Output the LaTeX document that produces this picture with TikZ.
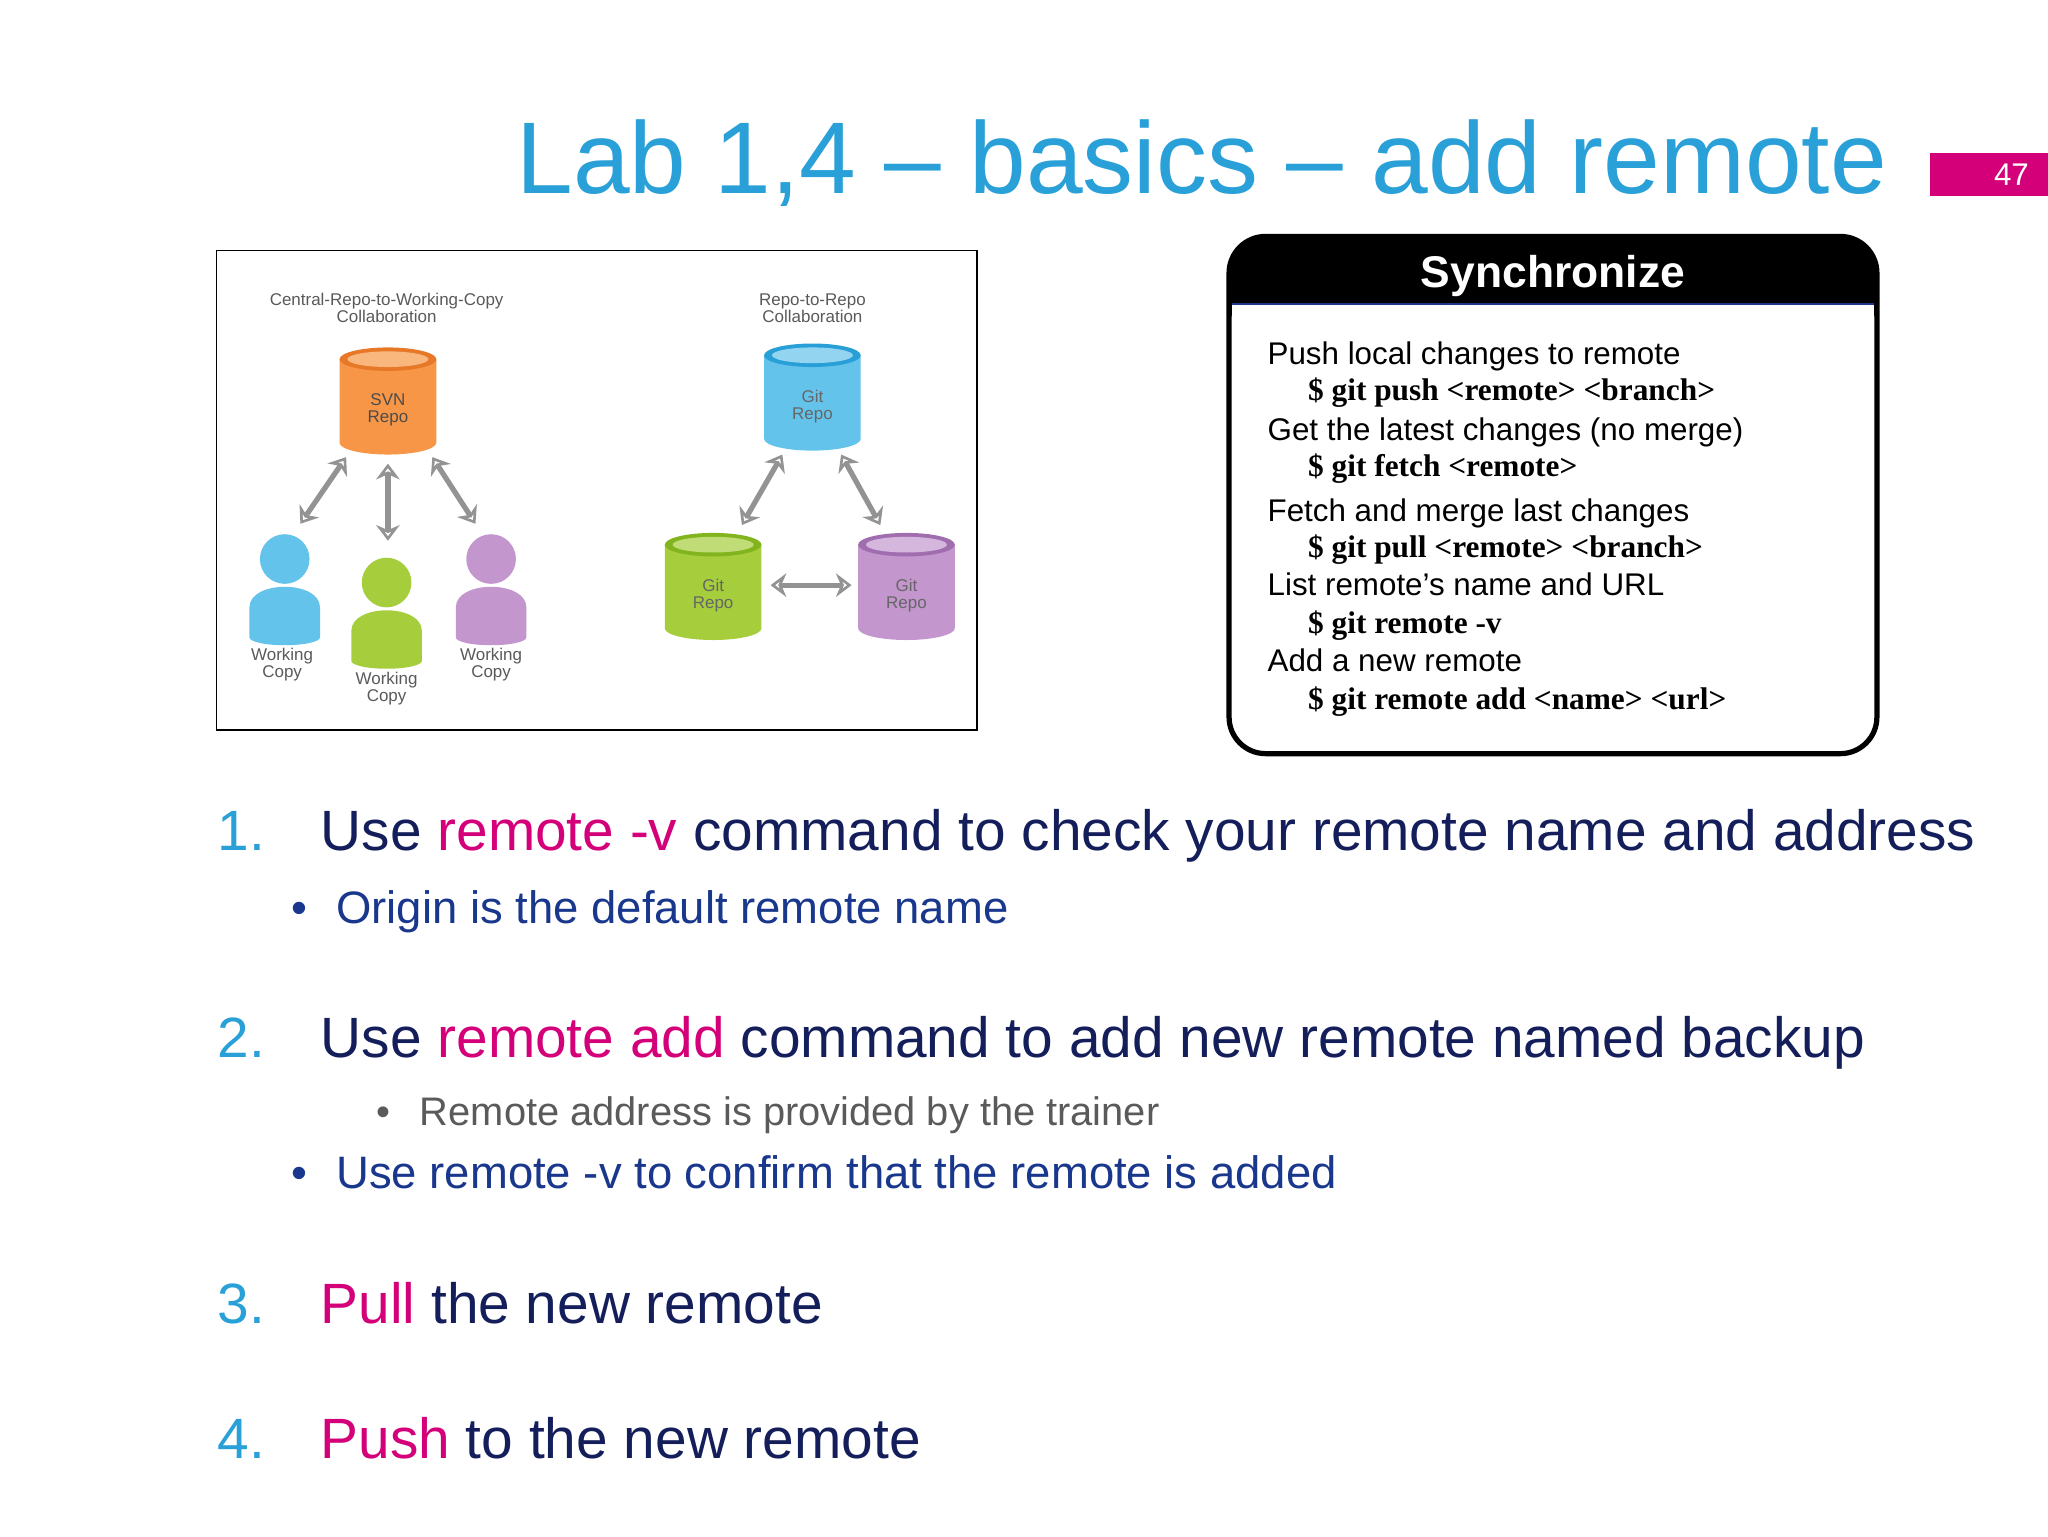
\documentclass[tikz,border=0pt]{standalone}
\usepackage{fontspec}
\setmainfont{Liberation Sans}
\newfontfamily\serifb{Liberation Serif}
\usetikzlibrary{arrows.meta}
\definecolor{ttl}{RGB}{41,160,216}
\definecolor{pnk}{RGB}{212,0,122}
\definecolor{nvy}{RGB}{20,30,90}
\definecolor{blu}{RGB}{25,55,140}
\definecolor{gry}{RGB}{90,90,90}
\definecolor{orf}{RGB}{247,150,70}\definecolor{ord}{RGB}{230,120,40}
\definecolor{bef}{RGB}{100,195,235}\definecolor{bed}{RGB}{40,160,215}
\definecolor{grf}{RGB}{165,205,60}\definecolor{grd}{RGB}{130,180,30}
\definecolor{puf}{RGB}{195,150,205}\definecolor{pud}{RGB}{160,110,175}
\tikzset{
 sync/.style={anchor=base west,font=\fontsize{24}{26}\selectfont},
 cmd/.style={anchor=base west,font=\serifb\bfseries\fontsize{24}{26}\selectfont},
 num/.style={anchor=base west,text=ttl,font=\fontsize{43.5}{46}\selectfont},
 item/.style={anchor=base west,text=nvy,font=\fontsize{43.5}{46}\selectfont},
 bul/.style={anchor=base west,text=blu,font=\fontsize{34.8}{36}\selectfont},
 lbl/.style={align=center,text=gry,font=\fontsize{13}{13}\selectfont},
 dar/.style={draw=gray!85,line width=4pt,{Stealth[length=12pt,width=18pt,open]}-{Stealth[length=12pt,width=18pt,open]}},
}
\newcommand{\cyl}[5]{% x, ytop, fill, dark, name
 \fill[#3] (#1-37,#2) -- (#1-37,#2+64) arc[start angle=180,end angle=360,x radius=37,y radius=-9] -- (#1+37,#2) -- cycle;
 \fill[#4] (#1,#2) ellipse[x radius=37,y radius=9];
 \fill[#3!70!white] (#1,#2) ellipse[x radius=31,y radius=6];
 \coordinate (#5) at (#1,#2+38);}
\newcommand{\person}[4]{% x, ytop, fill, name
 \fill[#3] (#1-27,#2+78) -- (#1-27,#2+55) .. controls (#1-27,#2+34) and (#1+27,#2+34) .. (#1+27,#2+55) -- (#1+27,#2+78) arc[start angle=0,end angle=-180,x radius=27,y radius=-6];
 \fill[#3] (#1,#2+18) circle[radius=19];
 \coordinate (#4) at (#1,#2+50);}
\begin{document}
\begin{tikzpicture}[x=1pt,y=-1pt]
\useasboundingbox (0,0) rectangle (1568,1176);
\fill[white] (0,0) rectangle (1568,1176);
\node[anchor=base east,text=ttl,font=\fontsize{78}{82}\selectfont,inner sep=0] (title) at (1445,148) {Lab 1,4 – basics – add remote};
\fill[pnk] (1478,117) rectangle (1568,150);
\node[text=white,font=\fontsize{24}{26}\selectfont] (pg) at (1540,134) {47};
% left diagram
\draw[line width=1pt] (166,192) rectangle (748,559);
\node[lbl] (t1) at (296,236) {Central-Repo-to-Working-Copy\\Collaboration};
\node[lbl] (t2) at (622,236) {Repo-to-Repo\\Collaboration};
\cyl{297}{275}{orf}{ord}{svn}
\cyl{622}{272}{bef}{bed}{gitb}
\cyl{546}{417}{grf}{grd}{gitg}
\cyl{694}{417}{puf}{pud}{gitp}
\node[lbl,text=black!70] (svnl) at (297,314) {SVN\\Repo};
\node[lbl,text=black!60] (gbl) at (622,311) {Git\\Repo};
\node[lbl,text=black!60] (ggl) at (546,456) {Git\\Repo};
\node[lbl,text=black!60] (gpl) at (694,456) {Git\\Repo};
\person{218}{410}{bef}{p1}
\person{296}{428}{grf}{p2}
\person{376}{410}{puf}{p3}
\node[lbl] (w1) at (216,509) {Working\\Copy};
\node[lbl] (w2) at (296,527) {Working\\Copy};
\node[lbl] (w3) at (376,509) {Working\\Copy};
\coordinate (a1s) at (265,350);\coordinate (a1e) at (230,401);
\coordinate (a2s) at (297,355);\coordinate (a2e) at (297,414);
\coordinate (a3s) at (331,350);\coordinate (a3e) at (364,401);
\coordinate (b1s) at (599,348);\coordinate (b1e) at (568,402);
\coordinate (b2s) at (644,348);\coordinate (b2e) at (674,402);
\coordinate (c1s) at (590,448);\coordinate (c1e) at (652,448);
\draw[dar] (a1s) -- (a1e);\draw[dar] (a2s) -- (a2e);\draw[dar] (a3s) -- (a3e);
\draw[dar] (b1s) -- (b1e);\draw[dar] (b2s) -- (b2e);\draw[dar] (c1s) -- (c1e);
% synchronize box
\fill[black,rounded corners=28pt] (941,181) rectangle (1437,260);
\fill[white] (943,233) rectangle (1435,262);
\draw[line width=4pt,rounded corners=28pt] (941,181) rectangle (1437,577);
\draw[blu,line width=1.5pt] (943,233) -- (1435,233);
\node[text=white,font=\bfseries\fontsize{34}{36}\selectfont] (sy) at (1189,211) {Synchronize};
\node[sync] (s1) at (967,279) {Push local changes to remote};
\node[cmd] (c1) at (998,307) {\$ git push <remote> <branch>};
\node[sync] (s2) at (967,337) {Get the latest changes (no merge)};
\node[cmd] (c2) at (998,365) {\$ git fetch <remote>};
\node[sync] (s3) at (967,399) {Fetch and merge last changes};
\node[cmd] (c3) at (998,427) {\$ git pull <remote> <branch>};
\node[sync] (s4) at (967,456) {List remote’s name and URL};
\node[cmd] (c4) at (998,485) {\$ git remote -v};
\node[sync] (s5) at (967,514) {Add a new remote};
\node[cmd] (c5) at (998,543) {\$ git remote add <name> <url>};
% list
\node[num] (n1) at (163,651) {1.};
\node[item] (i1) at (242,651) {Use \textcolor{pnk}{remote -v} command to check your remote name and address};
\node[bul] (bb1) at (220,707) {•};
\node[bul] (b1) at (254,707) {Origin is the default remote name};
\node[num] (n2) at (163,810) {2.};
\node[item] (i2) at (242,810) {Use \textcolor{pnk}{remote add} command to add new remote named backup};
\node[anchor=base west,text=gry,font=\fontsize{30.5}{32}\selectfont] (bb2) at (285,862) {•};
\node[anchor=base west,text=gry,font=\fontsize{30.5}{32}\selectfont] (b2) at (318,862) {Remote address is provided by the trainer};
\node[bul] (bb3) at (220,910) {•};
\node[bul] (b3) at (254,910) {Use remote -v to confirm that the remote is added};
\node[num] (n3) at (163,1013) {3.};
\node[item] (i3) at (242,1013) {\textcolor{pnk}{Pull} the new remote};
\node[num] (n4) at (163,1117) {4.};
\node[item] (i4) at (242,1117) {\textcolor{pnk}{Push} to the new remote};
\end{tikzpicture}
\end{document}
